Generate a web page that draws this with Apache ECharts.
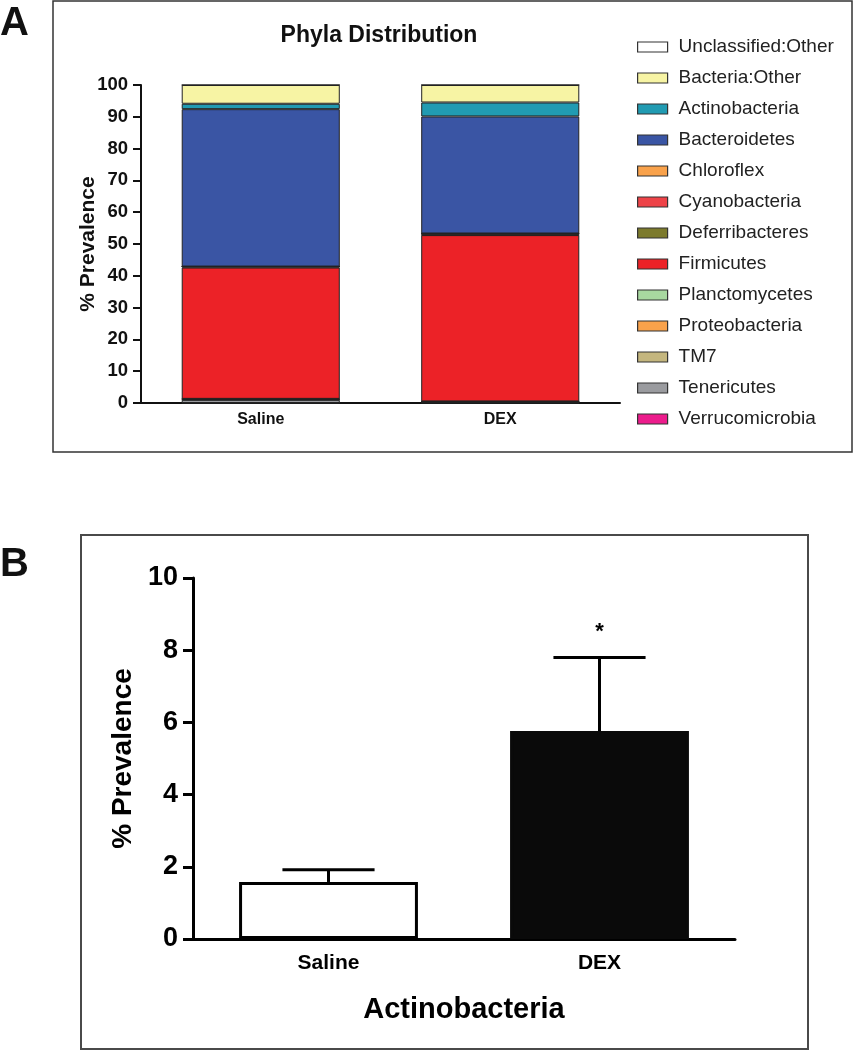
<!DOCTYPE html>
<html>
<head>
<meta charset="utf-8">
<script src="https://cdn.jsdelivr.net/npm/echarts@6/dist/echarts.min.js"></script>
<style>
  html, body { margin: 0; padding: 0; background: #fff; }
  #main { width: 855px; height: 1050px; }
</style>
</head>
<body>
<div id="main"></div>
<script>
// panel A: phyla stacked bars (bottom to top order)
var groups = ['Saline', 'DEX'];
var phyla = ['Verrucomicrobia', 'Tenericutes', 'TM7', 'Proteobacteria', 'Planctomycetes',
    'Firmicutes', 'Deferribacteres', 'Cyanobacteria', 'Chloroflex', 'Bacteroidetes',
    'Actinobacteria', 'Bacteria:Other', 'Unclassified:Other'];
var phylaColors = ['#ec1c8c', '#9a9b9f', '#c4b67e', '#f9a24b', '#a8d8a0',
    '#ec2227', '#7c7a2c', '#ee4348', '#f9a24b', '#3a55a4',
    '#219bb2', '#f7f4a4', '#ffffff'];
var salineValues = [0, 1.0, 0.1, 0.2, 0, 41.3, 0.3, 0, 0, 49.5, 1.7, 5.9, 0];
var dexValues = [0, 0.3, 0, 0.2, 0, 52.3, 0.1, 0.4, 0, 36.8, 4.4, 5.5, 0];
var ticksA = [0, 10, 20, 30, 40, 50, 60, 70, 80, 90, 100];

// panel B: Actinobacteria mean + SEM
var actinoMean = [1.58, 5.76];
var actinoSem = [0.34, 2.04];
var sigMarks = ['', '*'];
var ticksB = [0, 2, 4, 6, 8, 10];

var chartDom = document.getElementById('main');
var myChart = echarts.init(chartDom);

var FONT = '"Liberation Sans", Arial, Helvetica, sans-serif';
var NARROW = '"Liberation Sans Narrow", "Arial Narrow", "Liberation Sans", Arial, sans-serif';

var stackSeries = phyla.map(function (name, i) {
    return {
        name: name,
        type: 'bar',
        stack: 'phyla',
        xAxisIndex: 0,
        yAxisIndex: 0,
        barWidth: '66%',
        itemStyle: { color: phylaColors[i], borderColor: '#222', borderWidth: 1 },
        data: [salineValues[i], dexValues[i]]
    };
});

var option = {
    animation: false,
    textStyle: { fontFamily: FONT },
    title: {
        text: 'Phyla Distribution',
        left: 379,
        top: 24,
        padding: 0,
        textAlign: 'center',
        textStyle: { fontFamily: FONT, fontSize: 23, fontWeight: 'bold', color: '#111' }
    },
    legend: {
        orient: 'vertical',
        left: 632,
        top: 32,
        itemWidth: 30,
        itemHeight: 10,
        itemGap: 11,
        icon: 'rect',
        data: phyla.slice().reverse(),
        itemStyle: { borderColor: '#333', borderWidth: 1.2 },
        textStyle: { fontFamily: FONT, fontSize: 19, color: '#222', lineHeight: 20, padding: [0, 0, 0, 6] }
    },
    grid: [
        { left: 141, top: 85, width: 479, height: 318 },
        { left: 193, top: 578, width: 542, height: 361 }
    ],
    xAxis: [
        {
            type: 'category', gridIndex: 0, data: groups,
            axisLine: { lineStyle: { color: '#111', width: 2 } },
            axisTick: { alignWithLabel: true, length: 7, lineStyle: { width: 2, color: '#111' } },
            axisLabel: { margin: 9, fontFamily: FONT, fontSize: 16, fontWeight: 'bold', color: '#111' }
        },
        {
            type: 'category', gridIndex: 1, data: groups,
            name: 'Actinobacteria', nameLocation: 'middle', nameGap: 56, nameMoveOverlap: false,
            nameTextStyle: { fontFamily: FONT, fontSize: 29, fontWeight: 'bold', color: '#000' },
            axisLine: { lineStyle: { color: '#000', width: 3 } },
            axisTick: { alignWithLabel: true, length: 11, lineStyle: { width: 3, color: '#000' } },
            axisLabel: { margin: 14, fontFamily: FONT, fontSize: 21, fontWeight: 'bold', color: '#000' }
        }
    ],
    yAxis: [
        {
            type: 'value', gridIndex: 0, min: ticksA[0], max: ticksA[ticksA.length - 1], interval: 10,
            name: '% Prevalence', nameLocation: 'middle', nameGap: 42, nameRotate: 90, nameMoveOverlap: false,
            nameTextStyle: { fontFamily: FONT, fontSize: 21, fontWeight: 'bold', color: '#111' },
            splitLine: { show: false },
            axisLine: { show: true, lineStyle: { color: '#111', width: 2 } },
            axisTick: { show: true, length: 8, lineStyle: { width: 2, color: '#111' } },
            axisLabel: { margin: 13, fontFamily: FONT, fontSize: 18.5, fontWeight: 'bold', color: '#111' }
        },
        {
            type: 'value', gridIndex: 1, min: ticksB[0], max: ticksB[ticksB.length - 1], interval: 2,
            name: '% Prevalence', nameLocation: 'middle', nameGap: 56, nameRotate: 90, nameMoveOverlap: false,
            nameTextStyle: { fontFamily: FONT, fontSize: 28, fontWeight: 'bold', color: '#000' },
            splitLine: { show: false },
            axisLine: { show: true, lineStyle: { color: '#000', width: 3 } },
            axisTick: { show: true, length: 10, lineStyle: { width: 3, color: '#000' } },
            axisLabel: { margin: 15, fontFamily: NARROW, fontSize: 27, fontWeight: 'bold', color: '#000' }
        }
    ],
    graphic: [
        { type: 'rect', shape: { x: 53, y: 1, width: 799, height: 451 }, style: { fill: 'none', stroke: '#333', lineWidth: 1.5 }, silent: true },
        { type: 'rect', shape: { x: 81, y: 535, width: 727, height: 514 }, style: { fill: 'none', stroke: '#4a4a4a', lineWidth: 2 }, silent: true },
        { type: 'text', left: 0, top: 4, style: { text: 'A', font: 'bold 40px ' + FONT, fill: '#111' } },
        { type: 'text', left: 0, top: 545, style: { text: 'B', font: 'bold 40px ' + FONT, fill: '#111' } }
    ],
    series: stackSeries.concat([
        {
            name: 'Actinobacteria mean',
            type: 'bar',
            xAxisIndex: 1,
            yAxisIndex: 1,
            barWidth: '66%',
            data: actinoMean.map(function (v, i) {
                return {
                    value: v,
                    itemStyle: i === 0
                        ? { color: '#ffffff', borderColor: '#000', borderWidth: 3 }
                        : { color: '#0a0a0a', borderColor: '#0a0a0a', borderWidth: 3 }
                };
            })
        },
        {
            name: 'Actinobacteria SEM',
            type: 'custom',
            xAxisIndex: 1,
            yAxisIndex: 1,
            z: 3,
            data: actinoMean.map(function (v, i) { return [i, v, actinoSem[i]]; }),
            renderItem: function (params, api) {
                var i = api.value(0);
                var mean = api.value(1);
                var sem = api.value(2);
                var base = api.coord([i, mean]);
                var top = api.coord([i, mean + sem]);
                var half = api.size([1, 0])[0] * 0.17;
                var lineStyle = { stroke: '#000', lineWidth: 3 };
                return {
                    type: 'group',
                    children: [
                        { type: 'line', shape: { x1: base[0], y1: base[1], x2: top[0], y2: top[1] }, style: lineStyle },
                        { type: 'line', shape: { x1: top[0] - half, y1: top[1], x2: top[0] + half, y2: top[1] }, style: lineStyle },
                        {
                            type: 'text',
                            style: {
                                text: sigMarks[params.dataIndex], x: top[0], y: top[1] - 25,
                                align: 'center', verticalAlign: 'middle',
                                font: 'bold 22px ' + FONT, fill: '#000'
                            }
                        }
                    ]
                };
            }
        }
    ])
};

myChart.setOption(option);
</script>
</body>
</html>
